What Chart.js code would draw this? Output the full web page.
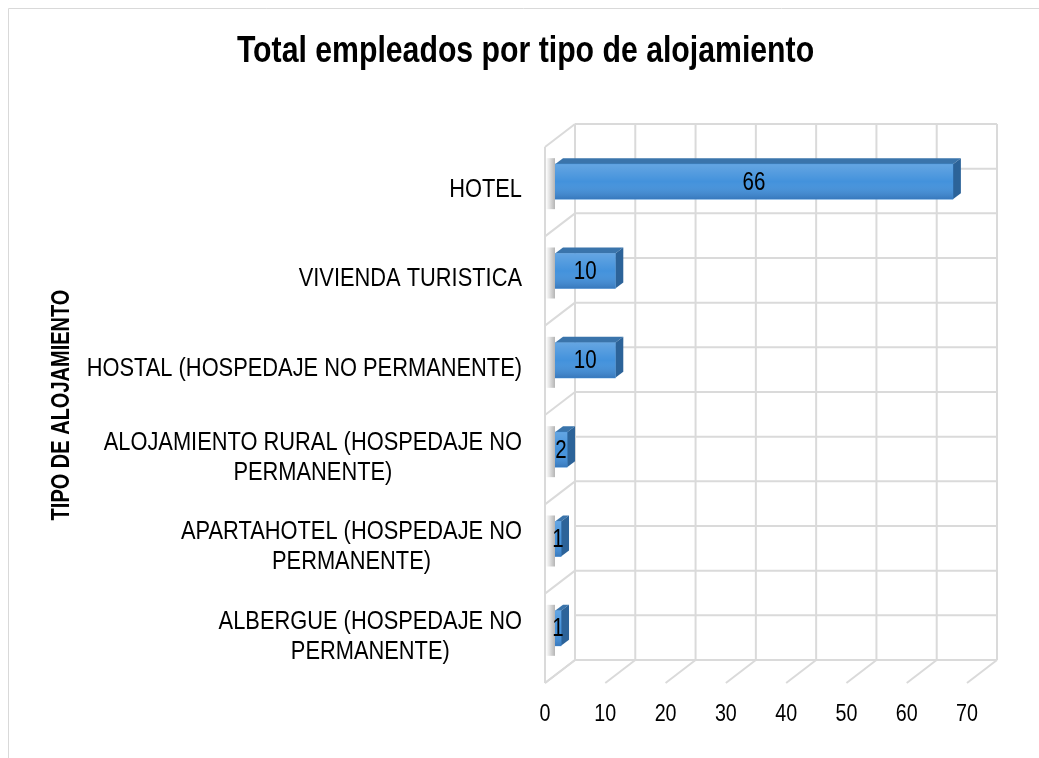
<!DOCTYPE html>
<html>
<head>
<meta charset="utf-8">
<script src="https://cdn.jsdelivr.net/npm/chart.js@4.4.0/dist/chart.umd.min.js"></script>
<style>
  html, body { margin: 0; padding: 0; background: #fff; }
  #wrap { width: 1039px; height: 758px; }
</style>
</head>
<body>
<div id="wrap"><canvas id="chart" width="1039" height="758"></canvas></div>
<script>
// data
const categories = [
  ['HOTEL'],
  ['VIVIENDA TURISTICA'],
  ['HOSTAL (HOSPEDAJE NO PERMANENTE)'],
  ['ALOJAMIENTO RURAL (HOSPEDAJE NO', 'PERMANENTE)'],
  ['APARTAHOTEL (HOSPEDAJE NO', 'PERMANENTE)'],
  ['ALBERGUE (HOSPEDAJE NO', 'PERMANENTE)']
];
const empleados = [66, 10, 10, 2, 1, 1];
const xMin = 0, xMax = 70, xStep = 10;
const chartTitle = 'Total empleados por tipo de alojamiento';
const yTitle = 'TIPO DE ALOJAMIENTO';

// no Arial Narrow here, so Liberation Sans squeezed sideways
const FONT = "'Liberation Sans', Arial, sans-serif";
const GRID = '#dadada';
// fake 3D: offsets of back wall and front edge from the plot area
const BACK = { dx: 20, dy: -13 };
const FRONT = { dx: -10, dy: 10 };
const DEPTH = { dx: 8, dy: -6 };

function line(ctx, x1, y1, x2, y2) {
  ctx.beginPath();
  ctx.moveTo(x1, y1);
  ctx.lineTo(x2, y2);
  ctx.stroke();
}

function narrowText(ctx, text, x, y, sx, align, rot) {
  ctx.save();
  ctx.translate(x, y);
  if (rot) ctx.rotate(rot);
  ctx.scale(sx, 1);
  ctx.textAlign = align;
  ctx.fillText(text, 0, 0);
  ctx.restore();
}

// walls, floor and frame
const walls = {
  id: 'walls',
  beforeDatasetsDraw(chart) {
    const { ctx, chartArea: a, scales: { x } } = chart;
    ctx.save();
    // outer frame
    ctx.strokeStyle = '#d9d9d9';
    ctx.lineWidth = 1;
    line(ctx, 8.5, 758, 8.5, 8.5);
    line(ctx, 8.5, 8.5, 1039, 8.5);

    ctx.strokeStyle = GRID;
    ctx.lineWidth = 2;
    const bTop = a.top + BACK.dy, bBot = a.bottom + BACK.dy;
    const step = (a.bottom - a.top) / categories.length;
    // back wall horizontals (category edges and centres)
    for (let k = 0; k <= categories.length * 2; k++) {
      const yy = bTop + k * step / 2;
      line(ctx, x.getPixelForValue(xMin) + BACK.dx, yy, x.getPixelForValue(xMax) + BACK.dx, yy);
    }
    // back wall verticals + floor diagonals
    for (let v = xMin; v <= xMax; v += xStep) {
      const px = x.getPixelForValue(v);
      line(ctx, px + BACK.dx, bTop, px + BACK.dx, bBot);
      line(ctx, px + BACK.dx, bBot, px + FRONT.dx, a.bottom + FRONT.dy);
    }
    // left side wall
    const x0 = x.getPixelForValue(xMin);
    line(ctx, x0 + FRONT.dx, a.top + FRONT.dy, x0 + FRONT.dx, a.bottom + FRONT.dy);
    for (let k = 0; k <= categories.length; k++) {
      const yy = a.top + k * step;
      line(ctx, x0 + BACK.dx, yy + BACK.dy, x0 + FRONT.dx, yy + FRONT.dy);
    }

    // bar top and side faces, drawn under the front face
    const meta = chart.getDatasetMeta(0);
    meta.data.forEach(bar => {
      const l = bar.base, r = bar.x;
      const t = bar.y - bar.height / 2, b = bar.y + bar.height / 2;
      // soft shadow at the left
      const sg = ctx.createLinearGradient(l - 9, 0, l, 0);
      sg.addColorStop(0, 'rgba(120,120,120,0)');
      sg.addColorStop(1, 'rgba(120,120,120,0.55)');
      ctx.fillStyle = sg;
      ctx.fillRect(l - 9, t - 6, 9, b - t + 16);

      ctx.fillStyle = '#3a74ab';
      ctx.beginPath();
      ctx.moveTo(l, t);
      ctx.lineTo(l + DEPTH.dx, t + DEPTH.dy);
      ctx.lineTo(r + DEPTH.dx, t + DEPTH.dy);
      ctx.lineTo(r, t);
      ctx.closePath();
      ctx.fill();
      ctx.fillStyle = '#2c6399';
      ctx.beginPath();
      ctx.moveTo(r, t);
      ctx.lineTo(r + DEPTH.dx, t + DEPTH.dy);
      ctx.lineTo(r + DEPTH.dx, b + DEPTH.dy);
      ctx.lineTo(r, b);
      ctx.closePath();
      ctx.fill();
    });
    ctx.restore();
  },
  afterDatasetsDraw(chart) {
    const { ctx } = chart;
    const meta = chart.getDatasetMeta(0);
    ctx.save();
    meta.data.forEach((bar, i) => {
      const l = bar.base, r = bar.x;
      const t = bar.y - bar.height / 2, b = bar.y + bar.height / 2;
      const g = ctx.createLinearGradient(0, t, 0, b);
      g.addColorStop(0, 'rgba(255,255,255,0.18)');
      g.addColorStop(0.5, 'rgba(255,255,255,0)');
      g.addColorStop(1, 'rgba(0,0,40,0.18)');
      ctx.fillStyle = g;
      ctx.fillRect(l, t, r - l, b - t);
      // value label
      ctx.fillStyle = '#000';
      ctx.font = '25px ' + FONT;
      ctx.textBaseline = 'middle';
      narrowText(ctx, String(empleados[i]), (l + r) / 2, bar.y + 1, 0.82, 'center');
    });
    ctx.restore();
  }
};

// all text: title, axis title, category labels, tick labels
const texts = {
  id: 'texts',
  afterDraw(chart) {
    const { ctx, chartArea: a, scales: { x, y } } = chart;
    ctx.save();
    ctx.fillStyle = '#000';

    ctx.font = 'bold 37px ' + FONT;
    ctx.textBaseline = 'alphabetic';
    narrowText(ctx, chartTitle, 525.5, 62, 0.817, 'center');

    ctx.font = 'bold 25px ' + FONT;
    ctx.textBaseline = 'middle';
    narrowText(ctx, yTitle, 62, (a.top + a.bottom) / 2, 0.8, 'center', -Math.PI / 2);

    // category labels: block right-aligned, lines centred inside the block
    const sx = 0.84, right = 522, lh = 30;
    ctx.font = '26px ' + FONT;
    categories.forEach((lines, i) => {
      const w = Math.max(...lines.map(s => ctx.measureText(s).width)) * sx;
      const cx = right - w / 2;
      const cy = y.getPixelForValue(i) + 8;
      lines.forEach((s, j) => {
        narrowText(ctx, s, cx, cy + (j - (lines.length - 1) / 2) * lh, sx, 'center');
      });
    });

    // x tick labels sit on the front edge of the floor
    ctx.font = '24px ' + FONT;
    x.ticks.forEach(t => {
      narrowText(ctx, String(t.value), x.getPixelForValue(t.value) + FRONT.dx, 714, 0.82, 'center');
    });
    ctx.restore();
  }
};

new Chart(document.getElementById('chart'), {
  type: 'bar',
  data: {
    labels: categories,
    datasets: [{
      data: empleados,
      backgroundColor: '#4392dc',
      borderWidth: 0,
      barThickness: 35
    }]
  },
  options: {
    indexAxis: 'y',
    responsive: false,
    animation: false,
    layout: { padding: { left: 555, right: 62, top: 137, bottom: 85 } },
    plugins: {
      legend: { display: false },
      tooltip: { enabled: false },
      title: { display: false }
    },
    scales: {
      x: {
        display: false,
        min: xMin,
        max: xMax,
        ticks: { stepSize: xStep }
      },
      y: { display: false }
    }
  },
  plugins: [walls, texts]
});
</script>
</body>
</html>
